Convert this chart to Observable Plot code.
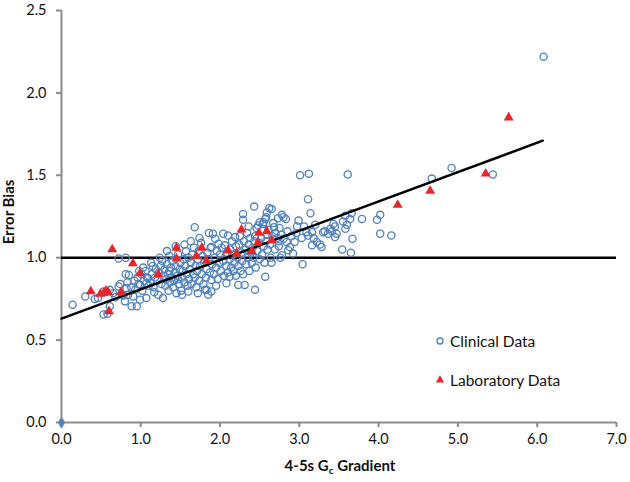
<!DOCTYPE html>
<html>
<head>
<meta charset="utf-8">
<script src="https://cdn.jsdelivr.net/npm/d3@7"></script>
<script src="https://cdn.jsdelivr.net/npm/@observablehq/plot@0.6"></script>
<style>
  html, body { margin: 0; padding: 0; background: #fff; }
  #chart { position: relative; width: 630px; height: 482px; }
</style>
</head>
<body>
<div id="chart"></div>
<script>
// ---- Data ----
const xTicks = [0, 1, 2, 3, 4, 5, 6, 7];
const yTicks = [0, 0.5, 1.0, 1.5, 2.0, 2.5];

// Clinical data: [gradient, error bias]
const clinical = [
  [0.14,0.715],[0.30,0.765],[0.42,0.75],[0.46,0.755],[0.53,0.795],[0.53,0.655],[0.58,0.66],[0.61,0.705],
  [0.61,0.805],[0.65,0.785],[0.68,0.76],[0.72,0.825],[0.74,0.84],[0.72,0.995],[0.81,1.0],[0.78,0.77],
  [0.80,0.735],[0.82,0.815],[0.84,0.775],[0.83,0.85],[0.85,0.895],[0.81,0.90],[0.885,0.705],[0.905,0.765],
  [0.88,0.82],[0.92,0.86],[0.93,0.805],[0.95,0.705],[0.97,0.84],[0.99,0.745],[0.99,0.835],[0.96,0.88],
  [0.98,0.92],[1.07,0.755],[1.07,0.845],[1.09,0.875],
  [1.02,0.80],[1.04,0.86],[1.06,0.92],[1.08,0.88],[1.10,0.83],[1.03,0.94],[1.01,0.90],
  [1.12,0.85],[1.14,0.90],[1.15,0.95],[1.16,0.82],[1.18,0.88],[1.19,0.93],[1.13,0.97],[1.17,0.79],
  [1.22,0.775],[1.21,0.86],[1.23,0.91],[1.25,0.95],[1.26,0.84],[1.27,0.98],[1.28,0.755],[1.29,0.89],[1.24,1.0],[1.30,0.93],
  [1.31,0.83],[1.32,0.87],[1.33,0.96],[1.34,0.90],[1.35,0.80],[1.36,1.01],[1.37,0.85],[1.38,0.94],[1.39,0.88],[1.40,0.98],[1.33,1.04],[1.36,0.92],
  [1.41,0.82],[1.42,0.86],[1.43,0.91],[1.44,0.95],[1.45,0.785],[1.46,0.89],[1.47,1.02],[1.48,0.84],[1.49,0.93],[1.50,0.97],[1.44,1.07],[1.47,0.87],
  [1.51,0.80],[1.52,0.775],[1.52,0.88],[1.53,0.92],[1.54,0.99],[1.55,0.85],[1.56,0.95],[1.57,1.04],[1.58,0.90],[1.59,0.83],[1.60,0.795],[1.60,1.0],[1.55,1.08],
  [1.61,0.87],[1.62,0.93],[1.63,0.97],[1.64,0.84],[1.65,1.02],[1.66,0.90],[1.67,1.06],[1.68,0.88],[1.68,1.185],[1.69,0.95],[1.70,0.82],[1.72,0.785],[1.63,1.10],
  [1.71,0.92],[1.72,0.99],[1.73,1.04],[1.74,0.86],[1.75,0.95],[1.76,1.09],[1.77,0.90],[1.78,1.01],[1.79,0.84],[1.80,0.97],[1.81,0.805],[1.74,1.12],
  [1.82,0.88],[1.83,0.93],[1.84,1.03],[1.85,0.775],[1.85,0.99],[1.86,1.15],[1.87,0.91],[1.88,1.06],[1.89,0.865],[1.89,0.795],[1.90,0.96],[1.89,1.065],[1.83,0.805],
  [1.91,1.145],[1.92,0.90],[1.93,1.0],[1.94,1.115],[1.95,0.94],[1.96,1.04],[1.97,0.87],[1.98,1.085],[1.99,0.97],[2.00,1.02],[1.95,0.83],
  [2.01,0.92],[2.02,1.06],[2.04,1.145],[2.04,0.98],[2.05,0.89],[2.06,1.075],[2.07,1.01],[2.08,0.845],[2.08,0.95],[2.09,1.03],[2.10,1.135],[2.10,0.91],
  [2.12,0.885],[2.12,0.99],[2.13,1.05],[2.14,0.94],[2.15,1.10],[2.16,1.02],[2.17,0.92],[2.18,0.97],[2.19,1.125],[2.20,1.07],[2.20,0.89],
  [2.23,0.835],[2.22,1.00],[2.23,0.95],[2.24,1.08],[2.25,1.13],[2.26,0.92],[2.27,1.03],[2.28,0.98],[2.29,1.265],[2.29,1.23],[2.30,1.10],[2.31,0.835],[2.29,0.90],
  [2.32,1.05],[2.33,0.96],[2.34,1.15],[2.35,1.00],[2.36,1.08],[2.37,0.92],[2.38,1.12],[2.39,1.03],[2.40,0.97],[2.36,1.19],
  [2.41,1.06],[2.43,1.31],[2.42,1.00],[2.44,0.805],[2.44,1.13],[2.45,0.94],[2.46,1.18],[2.47,1.04],[2.48,1.195],[2.49,1.09],[2.50,0.99],[2.50,1.215],[2.43,1.10],
  [2.52,1.12],[2.53,1.02],[2.54,1.205],[2.55,1.215],[2.55,1.07],[2.56,0.97],[2.57,0.885],[2.57,1.235],[2.58,1.245],[2.59,1.275],[2.59,1.14],[2.60,1.05],[2.58,1.10],
  [2.62,1.30],[2.61,1.17],[2.63,1.08],[2.64,1.00],[2.65,1.295],[2.66,1.13],[2.67,1.21],[2.68,1.185],[2.69,1.05],[2.70,1.15],[2.65,0.97],
  [2.72,1.12],[2.73,1.24],[2.74,1.07],[2.75,1.18],[2.76,1.00],[2.77,1.14],[2.78,1.26],[2.78,1.015],[2.80,1.245],[2.80,1.115],[2.74,1.10],
  [2.83,1.235],[2.84,1.095],[2.86,1.045],[2.88,1.065],[2.92,1.025],[2.94,1.095],[2.97,1.19],[2.99,1.225],[2.85,1.16],[2.90,1.13],[2.96,1.15],
  [3.01,1.50],[3.12,1.51],[3.04,0.96],[3.03,1.12],[3.09,1.155],[3.11,1.135],[3.11,1.355],[3.14,1.27],[3.16,1.155],[3.16,1.075],[3.18,1.12],
  [3.22,1.095],[3.26,1.08],[3.28,1.065],[3.30,1.155],[3.06,1.19],[3.20,1.20],
  [3.36,1.145],[3.32,1.16],[3.39,1.175],[3.43,1.205],[3.45,1.19],[3.41,1.16],[3.47,1.145],[3.45,1.125],[3.55,1.22],[3.58,1.255],
  [3.64,1.235],[3.60,1.20],[3.58,1.175],[3.61,1.505],[3.66,1.27],[3.67,1.115],[3.54,1.05],[3.65,1.03],
  [3.79,1.235],[4.02,1.26],[3.98,1.23],[4.02,1.145],[4.16,1.135],[4.67,1.48],[4.92,1.545],[5.44,1.505],[6.08,2.22]
];

// Laboratory data
const labX = [0.37,0.49,0.53,0.56,0.59,0.60,0.64,0.75,0.90,0.99,1.22,1.45,1.45,1.70,1.77,1.83,2.10,2.21,2.27,2.40,2.48,2.49,2.59,2.65,4.24,4.65,5.35,5.64];
const labY = [0.795,0.78,0.785,0.80,0.79,0.675,1.05,0.79,0.965,0.905,0.90,1.06,0.995,1.01,1.06,0.98,1.045,1.025,1.17,1.04,1.09,1.15,1.16,1.105,1.32,1.405,1.51,1.85];

// Origin marker
const originX = [0];
const originY = [0];

// Trend line end points
const trendX = [0, 6.07];
const trendY = [0.63, 1.71];

// Reference line
const refY = [1.0];

// Legend entries
const legendLabels = ["Clinical Data", "Laboratory Data"];

// ---- Build ----
const lab = labX.map((x, i) => ({x, y: labY[i]}));
const trend = trendX.map((x, i) => ({x, y: trendY[i]}));
const origin = originX.map((x, i) => ({x, y: originY[i]}));
const clin = clinical.map(([x, y]) => ({x, y}));

const FONT = "Lato, 'Open Sans', sans-serif";
const BLUE = "#4f81bd";
const RED = "#e8262a";
const AXIS = "#8c8c8c";

const plot = Plot.plot({
  width: 630,
  height: 482,
  marginLeft: 61,
  marginRight: 14,
  marginTop: 10,
  marginBottom: 60,
  style: {fontFamily: FONT, fontSize: "14px", color: "#111", background: "#fff"},
  x: {domain: [0, 7]},
  y: {domain: [0, 2.5]},
  marks: [
    Plot.ruleX([0], {stroke: AXIS, strokeWidth: 2}),
    Plot.ruleY([0], {stroke: AXIS, strokeWidth: 2}),
    Plot.axisX({ticks: xTicks, tickFormat: d3.format(".1f"), tickSize: 5, tickPadding: 6,
                stroke: AXIS, strokeWidth: 2, label: null, fontSize: 14.5}),
    Plot.axisY({ticks: yTicks, tickFormat: d3.format(".1f"), tickSize: 5, tickPadding: 10,
                stroke: AXIS, strokeWidth: 2, label: null, fontSize: 14.5}),
    Plot.ruleY(refY, {stroke: "#000", strokeWidth: 2.5}),
    Plot.dot(clin, {x: "x", y: "y", r: 3.6, stroke: BLUE, strokeWidth: 1.3, fill: "none"}),
    Plot.line(trend, {x: "x", y: "y", stroke: "#000", strokeWidth: 2.5}),
    Plot.dot(lab, {x: "x", y: "y", symbol: "triangle", r: 3.7, fill: RED, stroke: "none"}),
    Plot.dot(origin, {x: "x", y: "y", symbol: "diamond", r: 3.5, fill: BLUE, stroke: "#7f9cc4", strokeWidth: 1})
  ]
});

document.getElementById("chart").appendChild(plot);

// Axis titles and legend (text layout)
const svg = d3.select(plot);
const ax = svg.append("g").attr("font-family", FONT).attr("fill", "#111");
ax.append("text")
  .attr("transform", "translate(14,212) rotate(-90)")
  .attr("text-anchor", "middle")
  .attr("font-weight", "bold")
  .attr("font-size", 15)
  .text("Error Bias");
const xl = ax.append("text")
  .attr("x", 340).attr("y", 471)
  .attr("text-anchor", "middle")
  .attr("font-weight", "bold")
  .attr("font-size", 15);
xl.append("tspan").text("4-5s G");
xl.append("tspan").attr("font-size", 10).attr("dy", 3).text("c");
xl.append("tspan").attr("dy", -3).text(" Gradient");

const leg = svg.append("g").attr("font-family", FONT).attr("text-anchor", "start");
leg.append("circle").attr("cx", 440).attr("cy", 341).attr("r", 3)
  .attr("fill", "none").attr("stroke", BLUE).attr("stroke-width", 1.3);
leg.append("text").attr("x", 450).attr("y", 346.5).attr("font-size", 15.5).attr("fill", "#111")
  .attr("text-anchor", "start").text(legendLabels[0]);
leg.append("path").attr("d", d3.symbol(d3.symbolTriangle, 30)()).attr("transform", "translate(440,380)").attr("fill", RED);
leg.append("text").attr("x", 450).attr("y", 385.5).attr("font-size", 15.5).attr("fill", "#111")
  .attr("text-anchor", "start").text(legendLabels[1]);
</script>
</body>
</html>
